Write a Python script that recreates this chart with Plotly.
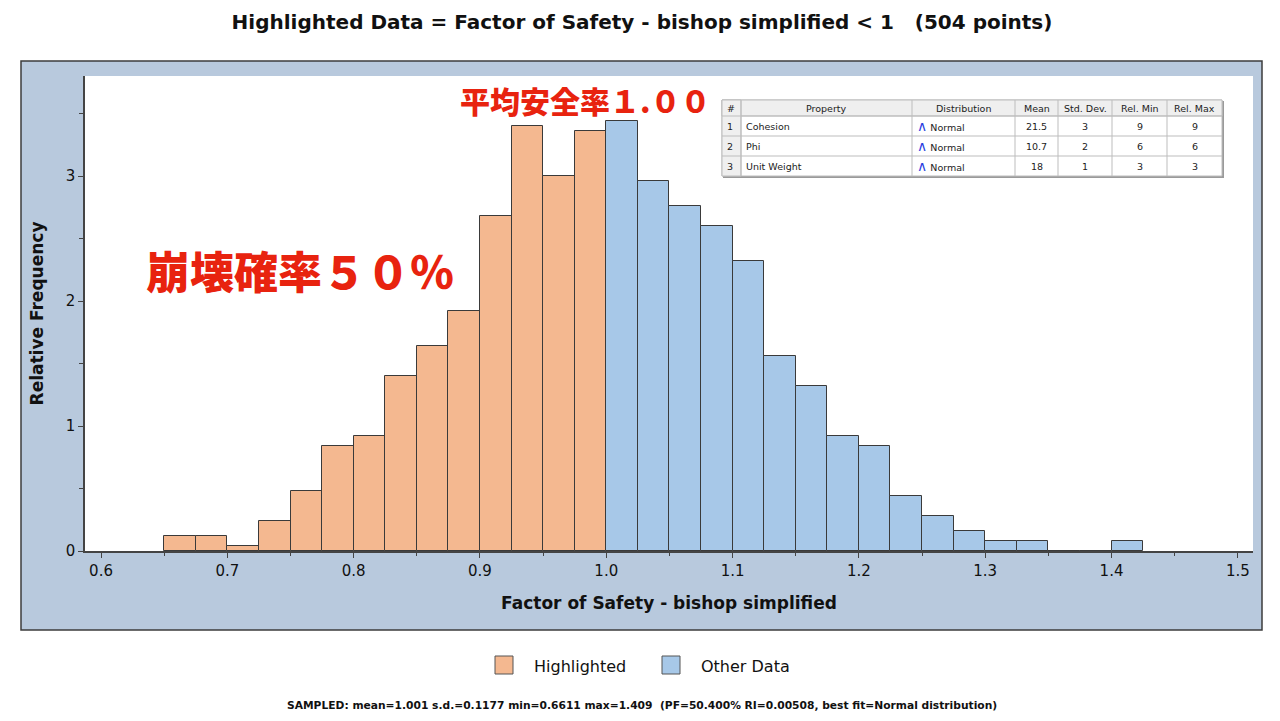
import plotly.graph_objects as go

# ---------------- data ----------------
bin_width = 0.025
hl_bin_left = [0.650, 0.675, 0.700, 0.725, 0.750, 0.775, 0.800, 0.825, 0.850,
               0.875, 0.900, 0.925, 0.950, 0.975]
hl_freq = [0.12, 0.12, 0.04, 0.24, 0.48, 0.84, 0.92, 1.40, 1.64,
           1.92, 2.68, 3.40, 3.00, 3.36]
ot_bin_left = [1.000, 1.025, 1.050, 1.075, 1.100, 1.125, 1.150, 1.175, 1.200,
               1.225, 1.250, 1.275, 1.300, 1.325, 1.350, 1.375, 1.400]
ot_freq = [3.44, 2.96, 2.76, 2.60, 2.32, 1.56, 1.32, 0.92, 0.84,
           0.44, 0.28, 0.16, 0.08, 0.08, 0.0, 0.0, 0.08]

x_ticks = [0.6, 0.7, 0.8, 0.9, 1.0, 1.1, 1.2, 1.3, 1.4, 1.5]
y_ticks = [0, 1, 2, 3]

tbl_header = ["#", "Property", "Distribution", "Mean", "Std. Dev.", "Rel. Min", "Rel. Max"]
tbl_idx = ["1", "2", "3"]
tbl_prop = ["Cohesion", "Phi", "Unit Weight"]
tbl_dist = ["Normal", "Normal", "Normal"]
tbl_mean = ["21.5", "10.7", "18"]
tbl_sd = ["3", "2", "1"]
tbl_rmin = ["9", "6", "3"]
tbl_rmax = ["9", "6", "3"]

legend_names = ["Highlighted", "Other Data"]

title_text = "Highlighted Data = Factor of Safety - bishop simplified < 1   (504 points)"
stats_text = ("SAMPLED: mean=1.001 s.d.=0.1177 min=0.6611 max=1.409  "
              "(PF=50.400% RI=0.00508, best fit=Normal distribution)")

# ---------------- layout geometry (pixels) ----------------
W, H = 1280, 721
PL, PR, PT, PB = 85, 1253, 76, 551  # plot area


def px(x):
    return (x - PL) / (PR - PL)


def py(y):
    return (PB - y) / (PB - PT)


FONT = "DejaVu Sans"
ORANGE = "#F4B890"
BLUE = "#A7C8E8"
EDGE = "#3a3a3a"
RED = "#E8230F"

fig = go.Figure()
fig.add_trace(go.Bar(
    x=[v + bin_width / 2 for v in hl_bin_left], y=hl_freq, width=bin_width,
    name=legend_names[0], showlegend=False,
    marker=dict(color=ORANGE, line=dict(color=EDGE, width=1)),
))
fig.add_trace(go.Bar(
    x=[v + bin_width / 2 for v in ot_bin_left], y=ot_freq, width=bin_width,
    name=legend_names[1], showlegend=False,
    marker=dict(color=BLUE, line=dict(color=EDGE, width=1)),
))

shapes = [
    dict(type="rect", xref="paper", yref="paper", layer="below",
         x0=px(21), x1=px(1262), y0=py(630), y1=py(61),
         fillcolor="#B8C9DD", line=dict(color="#3c3c3c", width=1.5)),
    dict(type="rect", xref="paper", yref="paper", layer="below",
         x0=0, x1=1, y0=0, y1=1, fillcolor="white", line=dict(width=0)),
]
annotations = []

# ---------------- property table (drawn with shapes + text) ----------------
col_edges = [722, 741, 912, 1015, 1058, 1112, 1167, 1222]
row_edges = [100, 116, 136, 156, 176]
GRID = "#BDBDBD"
shapes.append(dict(type="rect", xref="paper", yref="paper",
                   x0=px(col_edges[0] + 1), x1=px(col_edges[-1] + 2),
                   y0=py(row_edges[-1] + 2), y1=py(row_edges[0] + 1),
                   fillcolor="#9a9a9a", line=dict(width=0)))
shapes.append(dict(type="rect", xref="paper", yref="paper",
                   x0=px(col_edges[0]), x1=px(col_edges[-1]),
                   y0=py(row_edges[-1]), y1=py(row_edges[0]),
                   fillcolor="white", line=dict(color=GRID, width=1)))
shapes.append(dict(type="rect", xref="paper", yref="paper",
                   x0=px(col_edges[0]), x1=px(col_edges[-1]),
                   y0=py(row_edges[1]), y1=py(row_edges[0]),
                   fillcolor="#EFEFEF", line=dict(color=GRID, width=1)))
shapes.append(dict(type="rect", xref="paper", yref="paper",
                   x0=px(col_edges[0]), x1=px(col_edges[1]),
                   y0=py(row_edges[-1]), y1=py(row_edges[0]),
                   fillcolor="#EFEFEF", line=dict(color=GRID, width=1)))
for xe in col_edges[1:-1]:
    shapes.append(dict(type="line", xref="paper", yref="paper",
                       x0=px(xe), x1=px(xe), y0=py(row_edges[-1]), y1=py(row_edges[0]),
                       line=dict(color=GRID, width=1)))
for ye in row_edges[1:-1]:
    shapes.append(dict(type="line", xref="paper", yref="paper",
                       x0=px(col_edges[0]), x1=px(col_edges[-1]), y0=py(ye), y1=py(ye),
                       line=dict(color=GRID, width=1)))

TFONT = dict(family=FONT, size=9.5, color="#222")
for j, h in enumerate(tbl_header):
    left = j == 0
    annotations.append(dict(
        text=h, xref="paper", yref="paper", showarrow=False, font=TFONT,
        x=px(col_edges[j] + 3) if left else px((col_edges[j] + col_edges[j + 1]) / 2),
        xanchor="left" if left else "center",
        y=py((row_edges[0] + row_edges[1]) / 2), yanchor="middle"))

dist_cells = ["<span style='color:#2a3fe0;font-size:14px'>∧</span> " + d for d in tbl_dist]
columns = [tbl_idx, tbl_prop, dist_cells, tbl_mean, tbl_sd, tbl_rmin, tbl_rmax]
for j, col in enumerate(columns):
    left = j <= 2
    for i, val in enumerate(col):
        annotations.append(dict(
            text=val, xref="paper", yref="paper", showarrow=False, font=TFONT,
            x=px(col_edges[j] + 3) if left else px((col_edges[j] + col_edges[j + 1]) / 2),
            xanchor="left" if left else "center",
            y=py((row_edges[i + 1] + row_edges[i + 2]) / 2), yanchor="middle"))

# ---------------- legend (drawn manually) ----------------
legend_swatch_x = [495, 662]
for name, color, sx in zip(legend_names, [ORANGE, BLUE], legend_swatch_x):
    shapes.append(dict(type="rect", xref="paper", yref="paper",
                       x0=px(sx), x1=px(sx + 18), y0=py(674), y1=py(656),
                       fillcolor=color, line=dict(color="#555", width=1)))
    annotations.append(dict(text=name, xref="paper", yref="paper", showarrow=False,
                            x=px(sx + 37), xanchor="left", y=py(666), yanchor="middle",
                            font=dict(family=FONT, size=16, color="#111")))

annotations += [
    dict(text="平均安全率１.００", xref="paper", yref="paper", x=px(585), y=py(100),
         showarrow=False,
         font=dict(family="Noto Sans CJK JP", size=30, color=RED, weight=900),
         xanchor="center", yanchor="middle"),
    dict(text="崩壊確率５０％", xref="paper", yref="paper", x=px(300), y=py(270),
         showarrow=False,
         font=dict(family="Noto Sans CJK JP", size=44, color=RED, weight=900),
         xanchor="center", yanchor="middle"),
    dict(text="<b>" + stats_text + "</b>", xref="paper", yref="paper", x=px(642), y=py(705),
         showarrow=False, font=dict(family=FONT, size=10.7, color="#111"),
         xanchor="center", yanchor="middle"),
]

fig.update_layout(
    width=W, height=H,
    margin=dict(l=PL, r=W - PR, t=PT, b=H - PB, pad=0),
    paper_bgcolor="white", plot_bgcolor="rgba(0,0,0,0)",
    barmode="overlay", bargap=0, showlegend=False,
    title=dict(text="<b>" + title_text + "</b>", x=642 / W, xanchor="center",
               y=1 - 22 / H, yanchor="middle", yref="container",
               font=dict(family=FONT, size=20, color="#111")),
    font=dict(family=FONT, color="#111"),
    xaxis=dict(range=[0.5873, 1.512], tickvals=x_ticks, tickformat=".1f",
               showline=True, linecolor="#444", linewidth=1.5, ticks="outside",
               ticklen=5, tickcolor="#444", showgrid=False, zeroline=False,
               tickfont=dict(family=FONT, size=15, color="#111"),
               minor=dict(dtick=0.05, tick0=0.6, ticks="outside", ticklen=3, tickcolor="#444"),
               title=dict(text="<b>Factor of Safety - bishop simplified</b>",
                          font=dict(family=FONT, size=17, color="#111"), standoff=18)),
    yaxis=dict(range=[0, 3.8], tickvals=y_ticks, showline=True, linecolor="#444",
               linewidth=1.5, ticks="outside", ticklen=5, tickcolor="#444",
               showgrid=False, zeroline=False,
               tickfont=dict(family=FONT, size=15, color="#111"),
               minor=dict(dtick=0.5, ticks="outside", ticklen=4, tickcolor="#444"),
               title=dict(text="<b>Relative Frequency</b>",
                          font=dict(family=FONT, size=17, color="#111"), standoff=18)),
    shapes=shapes, annotations=annotations,
)

fig.write_html("out.html")
